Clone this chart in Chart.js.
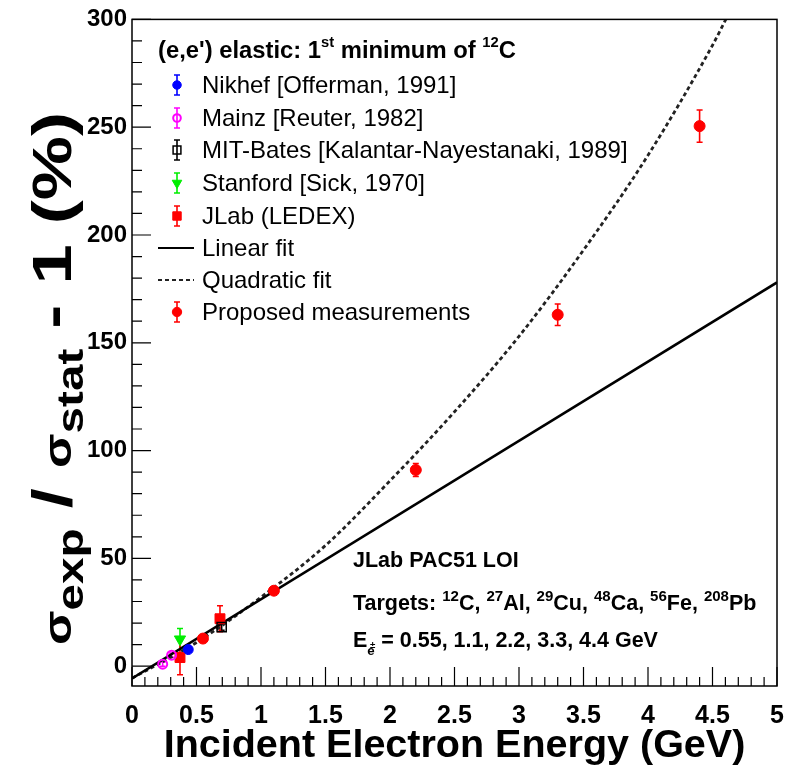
<!DOCTYPE html>
<html><head><meta charset="utf-8">
<script src="https://cdn.jsdelivr.net/npm/chart.js@4/dist/chart.umd.min.js"></script>
<style>html,body{margin:0;padding:0;background:#fff}</style>
</head><body>
<canvas id="c" width="801" height="766"></canvas>
<script>
// ---------------- data ----------------
const nikhefE = [0.436];          const nikhefV = [7.7];        const nikhefErr = [1.0];
const mainzE = [0.238, 0.307];    const mainzV = [0.9, 5.1];    const mainzErr = [1.0, 1.0];
const mitE = [0.695];             const mitV = [18.1];          const mitErr = [1.5];
const stanfordE = [0.372];        const stanfordV = [12.5];     const stanfordErr = [5.0];
const jlabE = [0.372, 0.682];     const jlabV = [4.0, 22.0];    const jlabErr = [8.0, 6.0];
const proposedE = [0.55, 1.1, 2.2, 3.3, 4.4];
const proposedV = [12.8, 35.0, 91.0, 163.0, 250.5];
const proposedErr = [1.0, 1.2, 3.0, 5.0, 7.5];
const linearE = [0, 5];
const linearV = [-5.7, 178];
const quadE = [0, 0.5, 1.0, 1.5, 2.0, 2.5, 3.0, 3.5, 4.0, 4.5, 4.62];
const quadV = [-5.6, 11, 32, 56, 86, 118, 153, 193, 237, 288, 302];
const xTicks = [0, 0.5, 1, 1.5, 2, 2.5, 3, 3.5, 4, 4.5, 5];
const yTicks = [0, 50, 100, 150, 200, 250, 300];

const legendTitle = [{t:'(e,e\') elastic: 1'},{t:'st',s:0.62,dy:-0.45},{t:' minimum of '},{t:'12',s:0.62,dy:-0.45},{t:'C'}];
const noteLines = [
  [{t:'JLab PAC51 LOI'}],
  [{t:'Targets: '},{t:'12',s:0.7,dy:-0.42},{t:'C, '},{t:'27',s:0.7,dy:-0.42},{t:'Al, '},{t:'29',s:0.7,dy:-0.42},{t:'Cu, '},{t:'48',s:0.7,dy:-0.42},{t:'Ca, '},{t:'56',s:0.7,dy:-0.42},{t:'Fe, '},{t:'208',s:0.7,dy:-0.42},{t:'Pb'}],
  [{t:'E'},{t:'e',s:0.62,dy:0.35},{t:'±',s:0.45,dy:0.05,back:true},{t:' = 0.55, 1.1, 2.2, 3.3, 4.4 GeV'}]
];
const yTitle = [{t:'σ',s:0.7},{t:'exp',s:0.66,dy:0.22},{t:' / '},{t:'σ',s:0.7},{t:'stat',s:0.66,dy:0.22},{t:' - 1 (%)'}];
const xTitle = 'Incident Electron Energy (GeV)';

const pts = (xs, ys) => xs.map((x, i) => ({x, y: ys[i]}));
const FAM = "'Liberation Sans', Arial, sans-serif";

function drawRich(ctx, x, y, parts, size, weight) {
  let cx = x;
  for (const p of parts) {
    const fs = size * (p.s || 1);
    ctx.font = `${weight} ${fs}px ${FAM}`;
    const w = ctx.measureText(p.t).width;
    if (p.back) { ctx.fillText(p.t, cx - w * 0.9, y + (p.dy || 0) * size); cx += w * 0.1; continue; }
    ctx.fillText(p.t, cx, y + (p.dy || 0) * size);
    cx += w;
  }
  return cx - x;
}

const datasets = [
  {label:'Nikhef [Offerman, 1991]', data:pts(nikhefE, nikhefV), err:nikhefErr, pointStyle:'circle', pointRadius:5,
   backgroundColor:'#0000ff', borderColor:'#0000ff', borderWidth:1, order:1},
  {label:'Mainz [Reuter, 1982]', data:pts(mainzE, mainzV), err:mainzErr, pointStyle:'circle', pointRadius:4.5,
   backgroundColor:'rgba(255,255,255,0)', borderColor:'#ff00ff', borderWidth:2, order:1},
  {label:'MIT-Bates [Kalantar-Nayestanaki, 1989]', data:pts(mitE, mitV), err:mitErr, pointStyle:'rect', pointRadius:6.5,
   backgroundColor:'rgba(255,255,255,0)', borderColor:'#000000', borderWidth:1.5, order:1},
  {label:'Stanford [Sick, 1970]', data:pts(stanfordE, stanfordV), err:stanfordErr, pointStyle:'triangle', pointRadius:6.5, rotation:180,
   backgroundColor:'#00ee00', borderColor:'#00ee00', borderWidth:1, order:1},
  {label:'JLab (LEDEX)', data:pts(jlabE, jlabV), err:jlabErr, pointStyle:'rect', pointRadius:7,
   backgroundColor:'#ff0000', borderColor:'#ff0000', borderWidth:1, order:1},
  {label:'Linear fit', type:'line', data:pts(linearE, linearV), borderColor:'#000', borderWidth:2.6, pointRadius:0, fill:false, order:2, isLine:true},
  {label:'Quadratic fit', type:'line', data:pts(quadE, quadV), borderColor:'#222', borderWidth:2.8, borderDash:[4,3], pointRadius:0,
   cubicInterpolationMode:'monotone', fill:false, order:2, isLine:true},
  {label:'Proposed measurements', data:pts(proposedE, proposedV), err:proposedErr, pointStyle:'circle', pointRadius:5.5,
   backgroundColor:'#ff0000', borderColor:'#ff0000', borderWidth:1, order:1}
];

const rootPlugin = {
  id:'rootStyle',
  beforeDatasetsDraw(chart) {
    const {ctx, chartArea:a, scales:{x, y}} = chart;
    ctx.save();
    ctx.beginPath(); ctx.rect(a.left, a.top, a.right - a.left, a.bottom - a.top); ctx.clip();
    chart.data.datasets.forEach(ds => {
      if (!ds.err) return;
      ctx.strokeStyle = ds.borderColor; ctx.lineWidth = 1.6;
      ds.data.forEach((p, i) => {
        const px = x.getPixelForValue(p.x);
        const y1 = y.getPixelForValue(p.y - ds.err[i]), y2 = y.getPixelForValue(p.y + ds.err[i]);
        ctx.beginPath();
        ctx.moveTo(px, y1); ctx.lineTo(px, y2);
        ctx.moveTo(px - 3, y1); ctx.lineTo(px + 3, y1);
        ctx.moveTo(px - 3, y2); ctx.lineTo(px + 3, y2);
        ctx.stroke();
      });
    });
    ctx.restore();
  },
  afterDraw(chart) {
    const {ctx, chartArea:a, scales:{x, y}} = chart;
    ctx.save();
    // frame
    ctx.strokeStyle = '#000'; ctx.lineWidth = 1.5;
    ctx.strokeRect(a.left, a.top, a.right - a.left, a.bottom - a.top);
    // inward ticks
    ctx.lineWidth = 1.2;
    ctx.beginPath();
    for (let k = 0; k <= 50; k++) {
      const v = k / 10, px = x.getPixelForValue(v);
      const len = (k % 5 === 0) ? 19 : 9;
      ctx.moveTo(px, a.bottom); ctx.lineTo(px, a.bottom - len);
    }
    for (let k = 0; k <= 30; k++) {
      const v = k * 10, py = y.getPixelForValue(v);
      const len = (k % 5 === 0) ? 19 : 10;
      ctx.moveTo(a.left, py); ctx.lineTo(a.left + len, py);
    }
    ctx.stroke();

    ctx.fillStyle = '#000';
    ctx.textBaseline = 'alphabetic';
    // y title (stretched along its own direction like the original)
    ctx.save();
    ctx.translate(71, 645); ctx.rotate(-Math.PI / 2); ctx.scale(1.29, 1);
    drawRich(ctx, 0, 0, yTitle, 56, 'bold');
    ctx.restore();

    // legend
    drawRich(ctx, 158, 58, legendTitle, 23.8, 'bold');
    const rowY = [85, 118, 150, 183, 216, 248, 280, 312];
    chart.data.datasets.forEach((ds, i) => {
      const cy = rowY[i];
      if (ds.isLine) {
        ctx.save();
        ctx.strokeStyle = ds.borderColor; ctx.lineWidth = 2;
        ctx.setLineDash(ds.borderDash || []);
        ctx.beginPath(); ctx.moveTo(158, cy); ctx.lineTo(194, cy); ctx.stroke();
        ctx.restore();
      } else {
        ctx.save();
        ctx.strokeStyle = ds.borderColor; ctx.lineWidth = 1.6;
        ctx.beginPath();
        ctx.moveTo(177, cy - 10); ctx.lineTo(177, cy + 10);
        ctx.moveTo(174, cy - 10); ctx.lineTo(180, cy - 10);
        ctx.moveTo(174, cy + 10); ctx.lineTo(180, cy + 10);
        ctx.stroke();
        ctx.fillStyle = ds.backgroundColor; ctx.strokeStyle = ds.borderColor; ctx.lineWidth = ds.borderWidth;
        Chart.helpers.drawPoint(ctx, {pointStyle: ds.pointStyle, radius: ds.pointRadius * 0.85, rotation: ds.rotation || 0, borderWidth: ds.borderWidth}, 177, cy);
        ctx.restore();
      }
      ctx.fillStyle = '#000';
      ctx.font = `24px ${FAM}`;
      ctx.fillText(ds.label, 202, cy + 8);
    });

    // annotations
    const noteY = [567, 610, 647];
    noteLines.forEach((ln, i) => drawRich(ctx, 353, noteY[i], ln, 21.5, 'bold'));
    ctx.restore();
  }
};

new Chart(document.getElementById('c'), {
  type:'scatter',
  data:{datasets},
  options:{
    responsive:false, animation:false, devicePixelRatio:1,
    layout:{padding:{left:0, right:24, top:15, bottom:0}},
    plugins:{legend:{display:false}, tooltip:{enabled:false}},
    scales:{
      x:{type:'linear', min:0, max:5,
        afterFit(s){ s.height = 80; },
        afterBuildTicks(s){ s.ticks = xTicks.map(v => ({value:v})); },
        grid:{display:false, drawTicks:false}, border:{display:false},
        ticks:{autoSkip:false, maxRotation:0, padding:15, color:'#000',
          callback:v => String(Math.round(v * 10) / 10),
          font:{family:"'Liberation Sans Narrow', 'Liberation Sans', Arial", size:25, weight:'bold'}},
        title:{display:true, text:xTitle, color:'#000', padding:{top:0, bottom:0},
          font:{family:FAM, size:39.5, weight:'bold', lineHeight:1}}
      },
      y:{type:'linear', min:-9.2, max:300,
        afterFit(s){ s.width = 132; },
        afterBuildTicks(s){ s.ticks = yTicks.map(v => ({value:v})); },
        grid:{display:false, drawTicks:false}, border:{display:false},
        ticks:{padding:5, color:'#000', font:{family:FAM, size:24, weight:'bold'}}
      }
    }
  },
  plugins:[rootPlugin]
});
</script>
</body></html>
